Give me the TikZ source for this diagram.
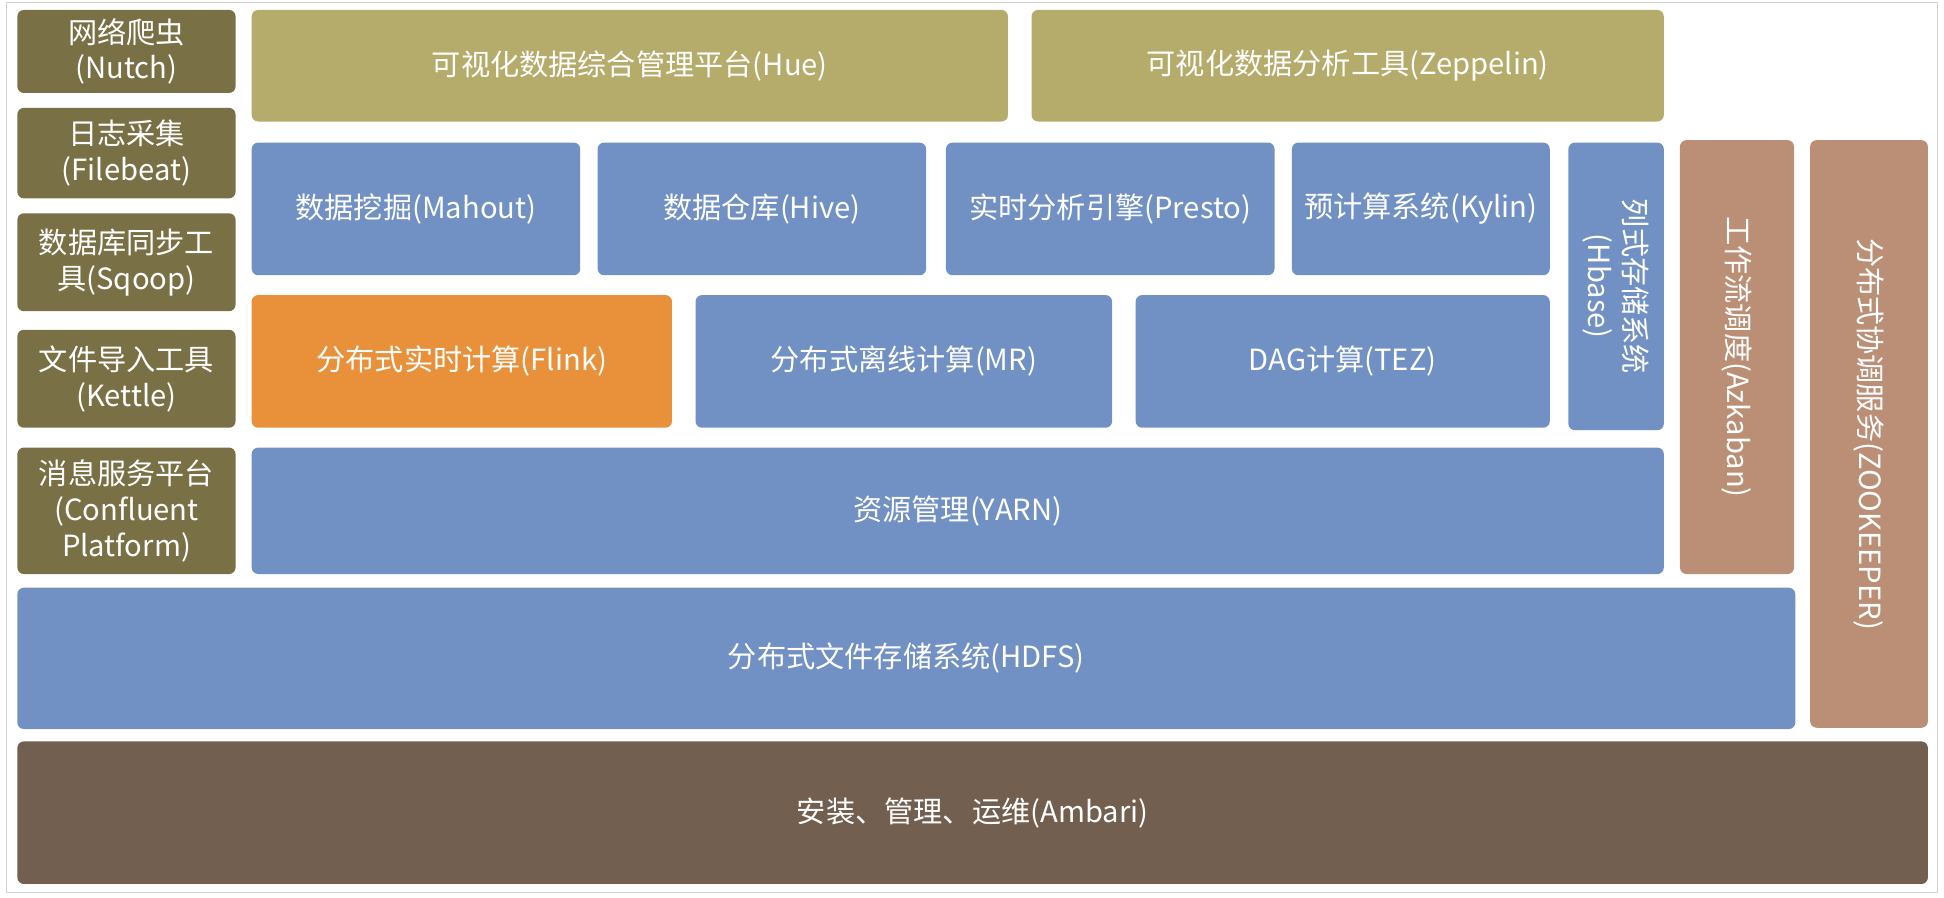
\documentclass[tikz,border=0pt]{standalone}
\usepackage{fontspec}
\setmainfont{Noto Sans CJK SC}
\usetikzlibrary{positioning}
\definecolor{olive}{HTML}{7A7045}
\definecolor{khaki}{HTML}{B5AB6B}
\definecolor{steel}{HTML}{7190C4}
\definecolor{flink}{HTML}{E8913A}
\definecolor{tan}{HTML}{BB8F76}
\definecolor{umber}{HTML}{735F50}
% block: style, name, x1, y1, x2, y2 (in 100px), text
\newcommand\blk[7]{%
  \node[box, #1, minimum width={(#5-#3)*1cm}, minimum height={(#6-#4)*1cm}]
    (#2) at ({(#3+#5)/2},{-(#4+#6)/2}) {#7};}
\begin{document}
\begin{tikzpicture}[
  box/.style={rounded corners=1.5pt, inner sep=0pt, align=center, text=white,
    font=\fontsize{6.7}{8.2}\selectfont},
  side/.style={fill=olive},
  top/.style={fill=khaki},
  mid/.style={fill=steel},
  vert/.style={fill=tan}]
  \useasboundingbox (0,0) rectangle (15.68,-7.24);
  \draw[gray!35, line width=0.3pt] (0.05,-0.02) rectangle (15.63,-7.2);
  % Left column
  \blk{side}{nutch}{0.14}{0.08}{1.90}{0.75}{网络爬虫\\(Nutch)}
  \blk{side}{filebeat}{0.14}{0.87}{1.90}{1.60}{日志采集\\(Filebeat)}
  \blk{side}{sqoop}{0.14}{1.72}{1.90}{2.51}{数据库同步工\\具(Sqoop)}
  \blk{side}{kettle}{0.14}{2.66}{1.90}{3.45}{文件导入工具\\(Kettle)}
  \blk{side}{confluent}{0.14}{3.61}{1.90}{4.63}{消息服务平台\\(Confluent\\Platform)}
  % Top row
  \blk{top}{hue}{2.03}{0.08}{8.13}{0.98}{可视化数据综合管理平台(Hue)}
  \blk{top}{zeppelin}{8.32}{0.08}{13.42}{0.98}{可视化数据分析工具(Zeppelin)}
  % Engines
  \blk{mid}{mahout}{2.03}{1.15}{4.68}{2.22}{数据挖掘(Mahout)}
  \blk{mid}{hive}{4.82}{1.15}{7.47}{2.22}{数据仓库(Hive)}
  \blk{mid}{presto}{7.63}{1.15}{10.28}{2.22}{实时分析引擎(Presto)}
  \blk{mid}{kylin}{10.42}{1.15}{12.50}{2.22}{预计算系统(Kylin)}
  \blk{fill=flink}{flink}{2.03}{2.38}{5.42}{3.45}{分布式实时计算(Flink)}
  \blk{mid}{mr}{5.61}{2.38}{8.97}{3.45}{分布式离线计算(MR)}
  \blk{mid}{tez}{9.16}{2.38}{12.50}{3.45}{DAG计算(TEZ)}
  \blk{mid}{yarn}{2.03}{3.61}{13.42}{4.63}{资源管理(YARN)}
  \blk{mid}{hdfs}{0.14}{4.74}{14.48}{5.88}{分布式文件存储系统(HDFS)}
  \blk{fill=umber}{ambari}{0.14}{5.98}{15.55}{7.13}{安装、管理、运维(Ambari)}
  % Vertical blocks
  \blk{mid}{hbase}{12.65}{1.15}{13.42}{3.47}{}
  \node[box, rotate=-90] at (hbase) {列式存储系统\\(Hbase)};
  \blk{vert}{azkaban}{13.55}{1.13}{14.47}{4.63}{}
  \node[box, rotate=-90] at (azkaban) {工作流调度(Azkaban)};
  \blk{vert}{zookeeper}{14.60}{1.13}{15.55}{5.87}{}
  \node[box, rotate=-90] at (zookeeper) {分布式协调服务(ZOOKEEPER)};
\end{tikzpicture}
\end{document}
